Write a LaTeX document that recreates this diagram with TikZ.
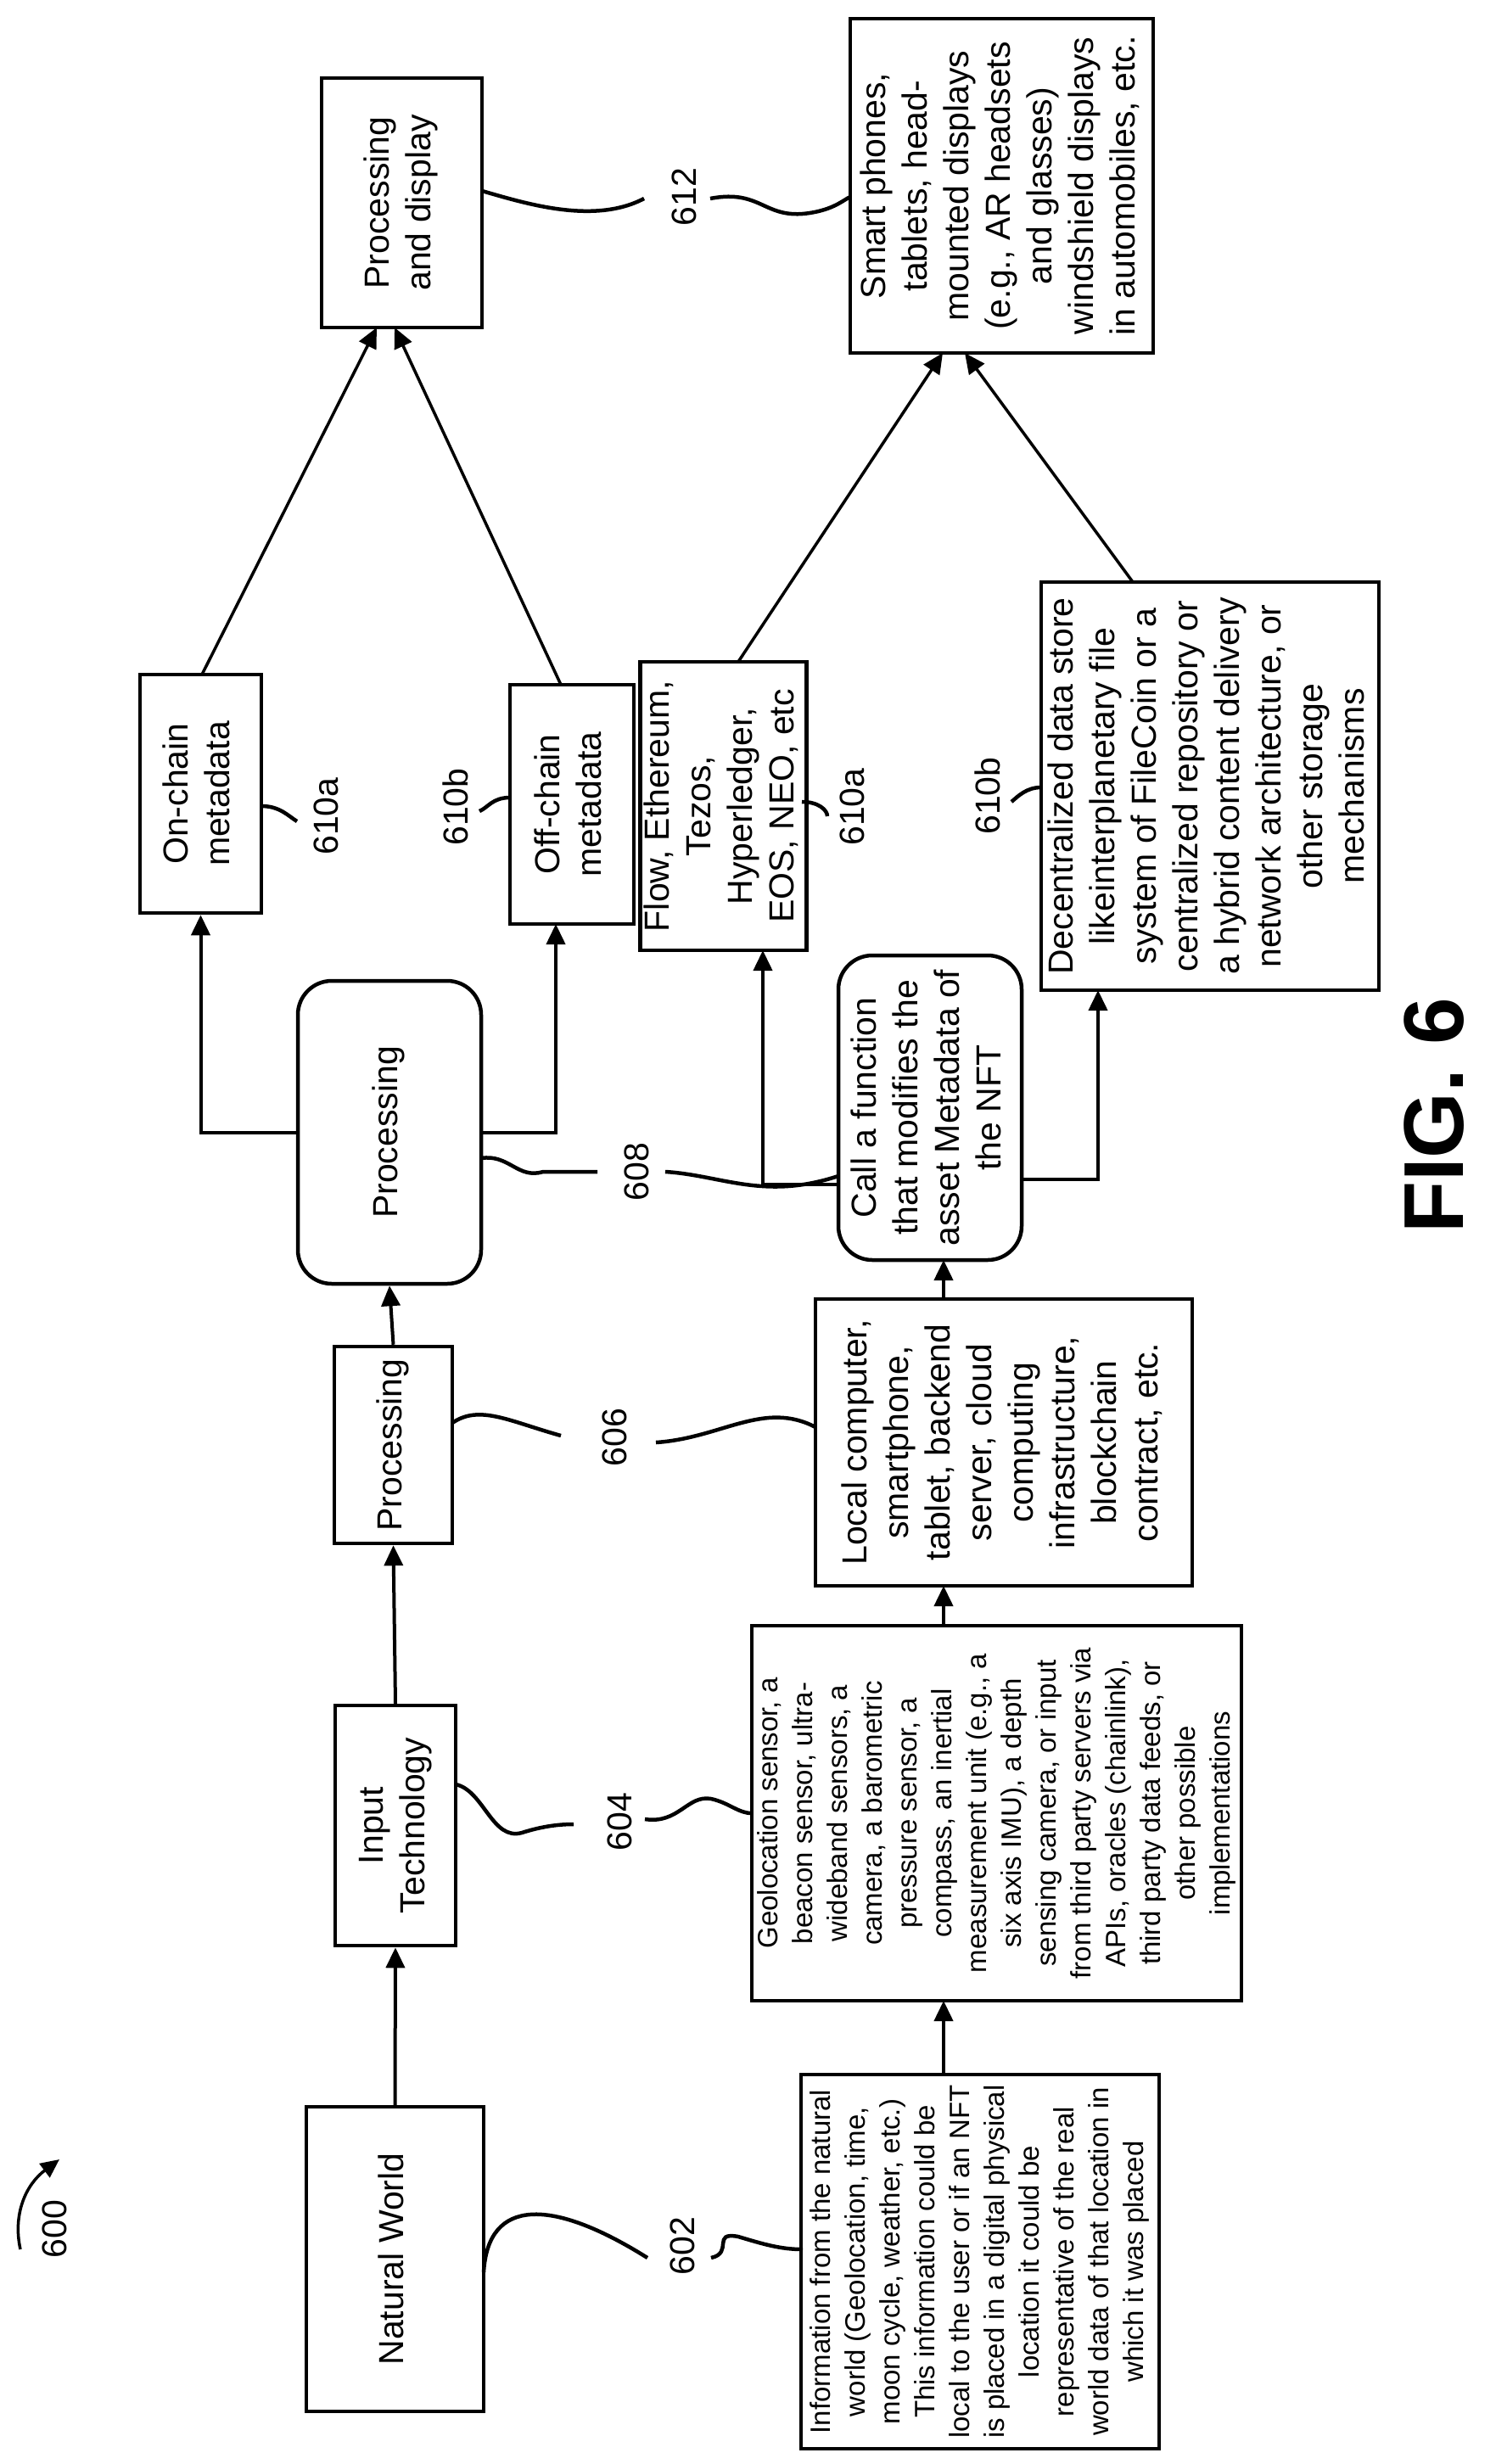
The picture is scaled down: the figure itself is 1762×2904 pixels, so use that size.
\documentclass[tikz,border=0pt]{standalone}
\usepackage{fontspec}
\setmainfont{Liberation Sans}
\usetikzlibrary{arrows.meta}
\newcommand{\rt}[1]{\rotatebox{90}{\begin{tabular}{@{}c@{}}#1\end{tabular}}}
\newcommand{\mf}{\fontsize{41}{49}\selectfont}
\newcommand{\smf}{\fontsize{33}{41}\selectfont}
\begin{document}
\begin{tikzpicture}[x=1pt,y=-1pt,
  box/.style={draw,line width=4.5pt,inner sep=0pt,font=\mf},
  rbox/.style={box,rounded corners=40pt},
  arr/.style={line width=4pt,-{Triangle[length=24pt,width=22pt]}},
  ln/.style={line width=3.5pt,-{Triangle[length=24pt,width=22pt]}},
  sq/.style={line width=4.5pt},
  lab/.style={rotate=90,font=\mf,inner sep=0pt}]
\useasboundingbox (0,0) rectangle (1762,2904);
% nodes
\node[box,minimum width=209pt,minimum height=359pt] (nw) at (465.5,2662.5) {\rt{Natural World}};
\node[box,minimum width=142pt,minimum height=283pt] (it) at (466,2151.5) {\rt{Input\\Technology}};
\node[box,minimum width=139pt,minimum height=232pt] (p1) at (463.5,1703) {\rt{Processing}};
\node[rbox,minimum width=216pt,minimum height=357pt] (p2) at (459,1334.5) {\rt{Processing}};
\node[box,minimum width=143pt,minimum height=281pt] (on) at (236.5,935.5) {\rt{On-chain\\metadata}};
\node[box,minimum width=146pt,minimum height=282pt] (off) at (674,948) {\rt{Off-chain\\metadata}};
\node[box,minimum width=185pt,minimum height=340pt] (flow) at (852.5,950) {\rt{Flow, Ethereum,\\Tezos,\\Hyperledger,\\EOS, NEO, etc}};
\node[box,minimum width=189pt,minimum height=294pt] (pd) at (473.5,239) {\rt{Processing\\and display}};
\node[box,minimum width=357pt,minimum height=394pt] (sp) at (1180.5,219) {\rt{Smart phones,\\tablets, head-\\mounted displays\\(e.g., AR headsets\\and glasses)\\windshield displays\\in automobiles, etc.}};
\node[box,minimum width=398pt,minimum height=481pt] (dec) at (1426,926.5) {\rt{Decentralized data store\\likeinterplanetary file\\system of FileCoin or a\\centralized repository or\\a hybrid content delivery\\network architecture, or\\other storage\\mechanisms}};
\node[rbox,minimum width=216pt,minimum height=359pt] (cf) at (1096,1305.5) {\rt{Call a function\\that modifies the\\asset Metadata of\\the NFT}};
\node[box,minimum width=444pt,minimum height=338pt] (lc) at (1183,1700) {\rt{Local computer,\\smartphone,\\tablet, backend\\server, cloud\\computing\\infrastructure,\\blockchain\\contract, etc.}};
\node[box,font=\smf,minimum width=577pt,minimum height=442pt] (i604) at (1174.5,2137) {\rt{Geolocation sensor, a\\beacon sensor, ultra-\\wideband sensors, a\\camera, a barometric\\pressure sensor, a\\compass, an inertial\\measurement unit (e.g., a\\six axis IMU), a depth\\sensing camera, or input\\from third party servers via\\APIs, oracles (chainlink),\\third party data feeds, or\\other possible\\implementations}};
\node[box,font=\smf,minimum width=422pt,minimum height=441pt] (i602) at (1155,2665.5) {\rt{Information from the natural\\world (Geolocation, time,\\moon cycle, weather, etc.)\\This information could be\\local to the user or if an NFT\\is placed in a digital physical\\location it could be\\representative of the real\\world data of that location in\\which it was placed}};
% labels
\node[lab] (l600) at (64,2627) {600};
\node[lab] (l602) at (804,2647) {602};
\node[lab] (l604) at (730,2147) {604};
\node[lab] (l606) at (724,1694) {606};
\node[lab] (l608) at (750,1381) {608};
\node[lab] (l612) at (806,232) {612};
\node[lab] (l610a) at (384,962) {610a};
\node[lab] (l610b) at (537,951) {610b};
\node[lab] (l610c) at (1004,951) {610a};
\node[lab] (l610d) at (1164,938) {610b};
\node[rotate=90,inner sep=0pt,font=\fontsize{100}{110}\selectfont\bfseries] (fig) at (1690,1315) {FIG. 6};
% coordinates
\coordinate (a600s) at (24,2651);
\coordinate (a600e) at (70,2545);
\coordinate (offin) at (655,1089);
\coordinate (pdA) at (444,386);
\coordinate (pdB) at (465,386);
\coordinate (onT) at (238,795);
\coordinate (offT) at (661,807);
\coordinate (flowT) at (870,780);
\coordinate (decT) at (1335,686);
\coordinate (spA) at (1111,416);
\coordinate (spB) at (1137,416);
\coordinate (cfl) at (988,1396);
\coordinate (cfr) at (1204,1390);
\coordinate (flowin) at (899,1120);
\coordinate (decin) at (1294,1167);
\coordinate (v1) at (1112,2445);
\coordinate (v2) at (1112,2358);
\coordinate (v3) at (1112,1916);
\coordinate (v4) at (1112,1869);
\coordinate (v5) at (1112,1531);
\coordinate (v6) at (1112,1485);
% connectors
\draw[arr] (nw.north) -- (it.south);
\draw[arr] (it.north) -- (p1.south);
\draw[arr] (p1.north) -- (p2.south);
\draw[arr] (p2.west) -| (on.south);
\draw[arr] (p2.east) -| (offin);
\draw[ln] (onT) -- (pdA);
\draw[ln] (offT) -- (pdB);
\draw[ln] (flowT) -- (spA);
\draw[ln] (decT) -- (spB);
\draw[arr] (v1) -- (v2);
\draw[arr] (v3) -- (v4);
\draw[arr] (v5) -- (v6);
\draw[arr] (cfl) -| (flowin);
\draw[arr] (cfr) -| (decin);
\draw[line width=3.5pt,-{Triangle[length=22pt,width=20pt]}] (a600s) .. controls (15,2610) and (30,2575) .. (a600e);
% leader squiggles
\draw[sq] (570,2678) .. controls (575,2590) and (650,2590) .. (763,2661);
\draw[sq] (838,2661) .. controls (865,2655) and (838,2630) .. (870,2636) .. controls (900,2645) and (920,2651) .. (946,2651);
\draw[sq] (537,2103) .. controls (570,2110) and (580,2170) .. (615,2160) .. controls (640,2152) and (660,2150) .. (676,2150);
\draw[sq] (760,2144) .. controls (800,2150) and (810,2115) .. (838,2120) .. controls (860,2125) and (870,2137) .. (886,2137);
\draw[sq] (533,1677) .. controls (565,1655) and (600,1675) .. (661,1692);
\draw[sq] (773,1700) .. controls (850,1695) and (900,1650) .. (961,1682);
\draw[sq] (567,1365) .. controls (600,1360) and (610,1390) .. (640,1381) -- (704,1381);
\draw[sq] (784,1381) .. controls (850,1385) and (900,1415) .. (988,1386);
\draw[sq] (568,225) .. controls (620,240) and (700,265) .. (759,234);
\draw[sq] (837,234) .. controls (900,222) and (900,262) .. (960,250) .. controls (985,245) and (995,235) .. (1002,232);
\draw[sq] (308,950) .. controls (330,950) and (340,962) .. (350,968);
\draw[sq] (601,940) .. controls (580,940) and (575,952) .. (565,956);
\draw[sq] (945,945) .. controls (965,945) and (975,955) .. (975,962);
\draw[sq] (1227,928) .. controls (1210,928) and (1200,938) .. (1192,945);
\end{tikzpicture}
\end{document}
